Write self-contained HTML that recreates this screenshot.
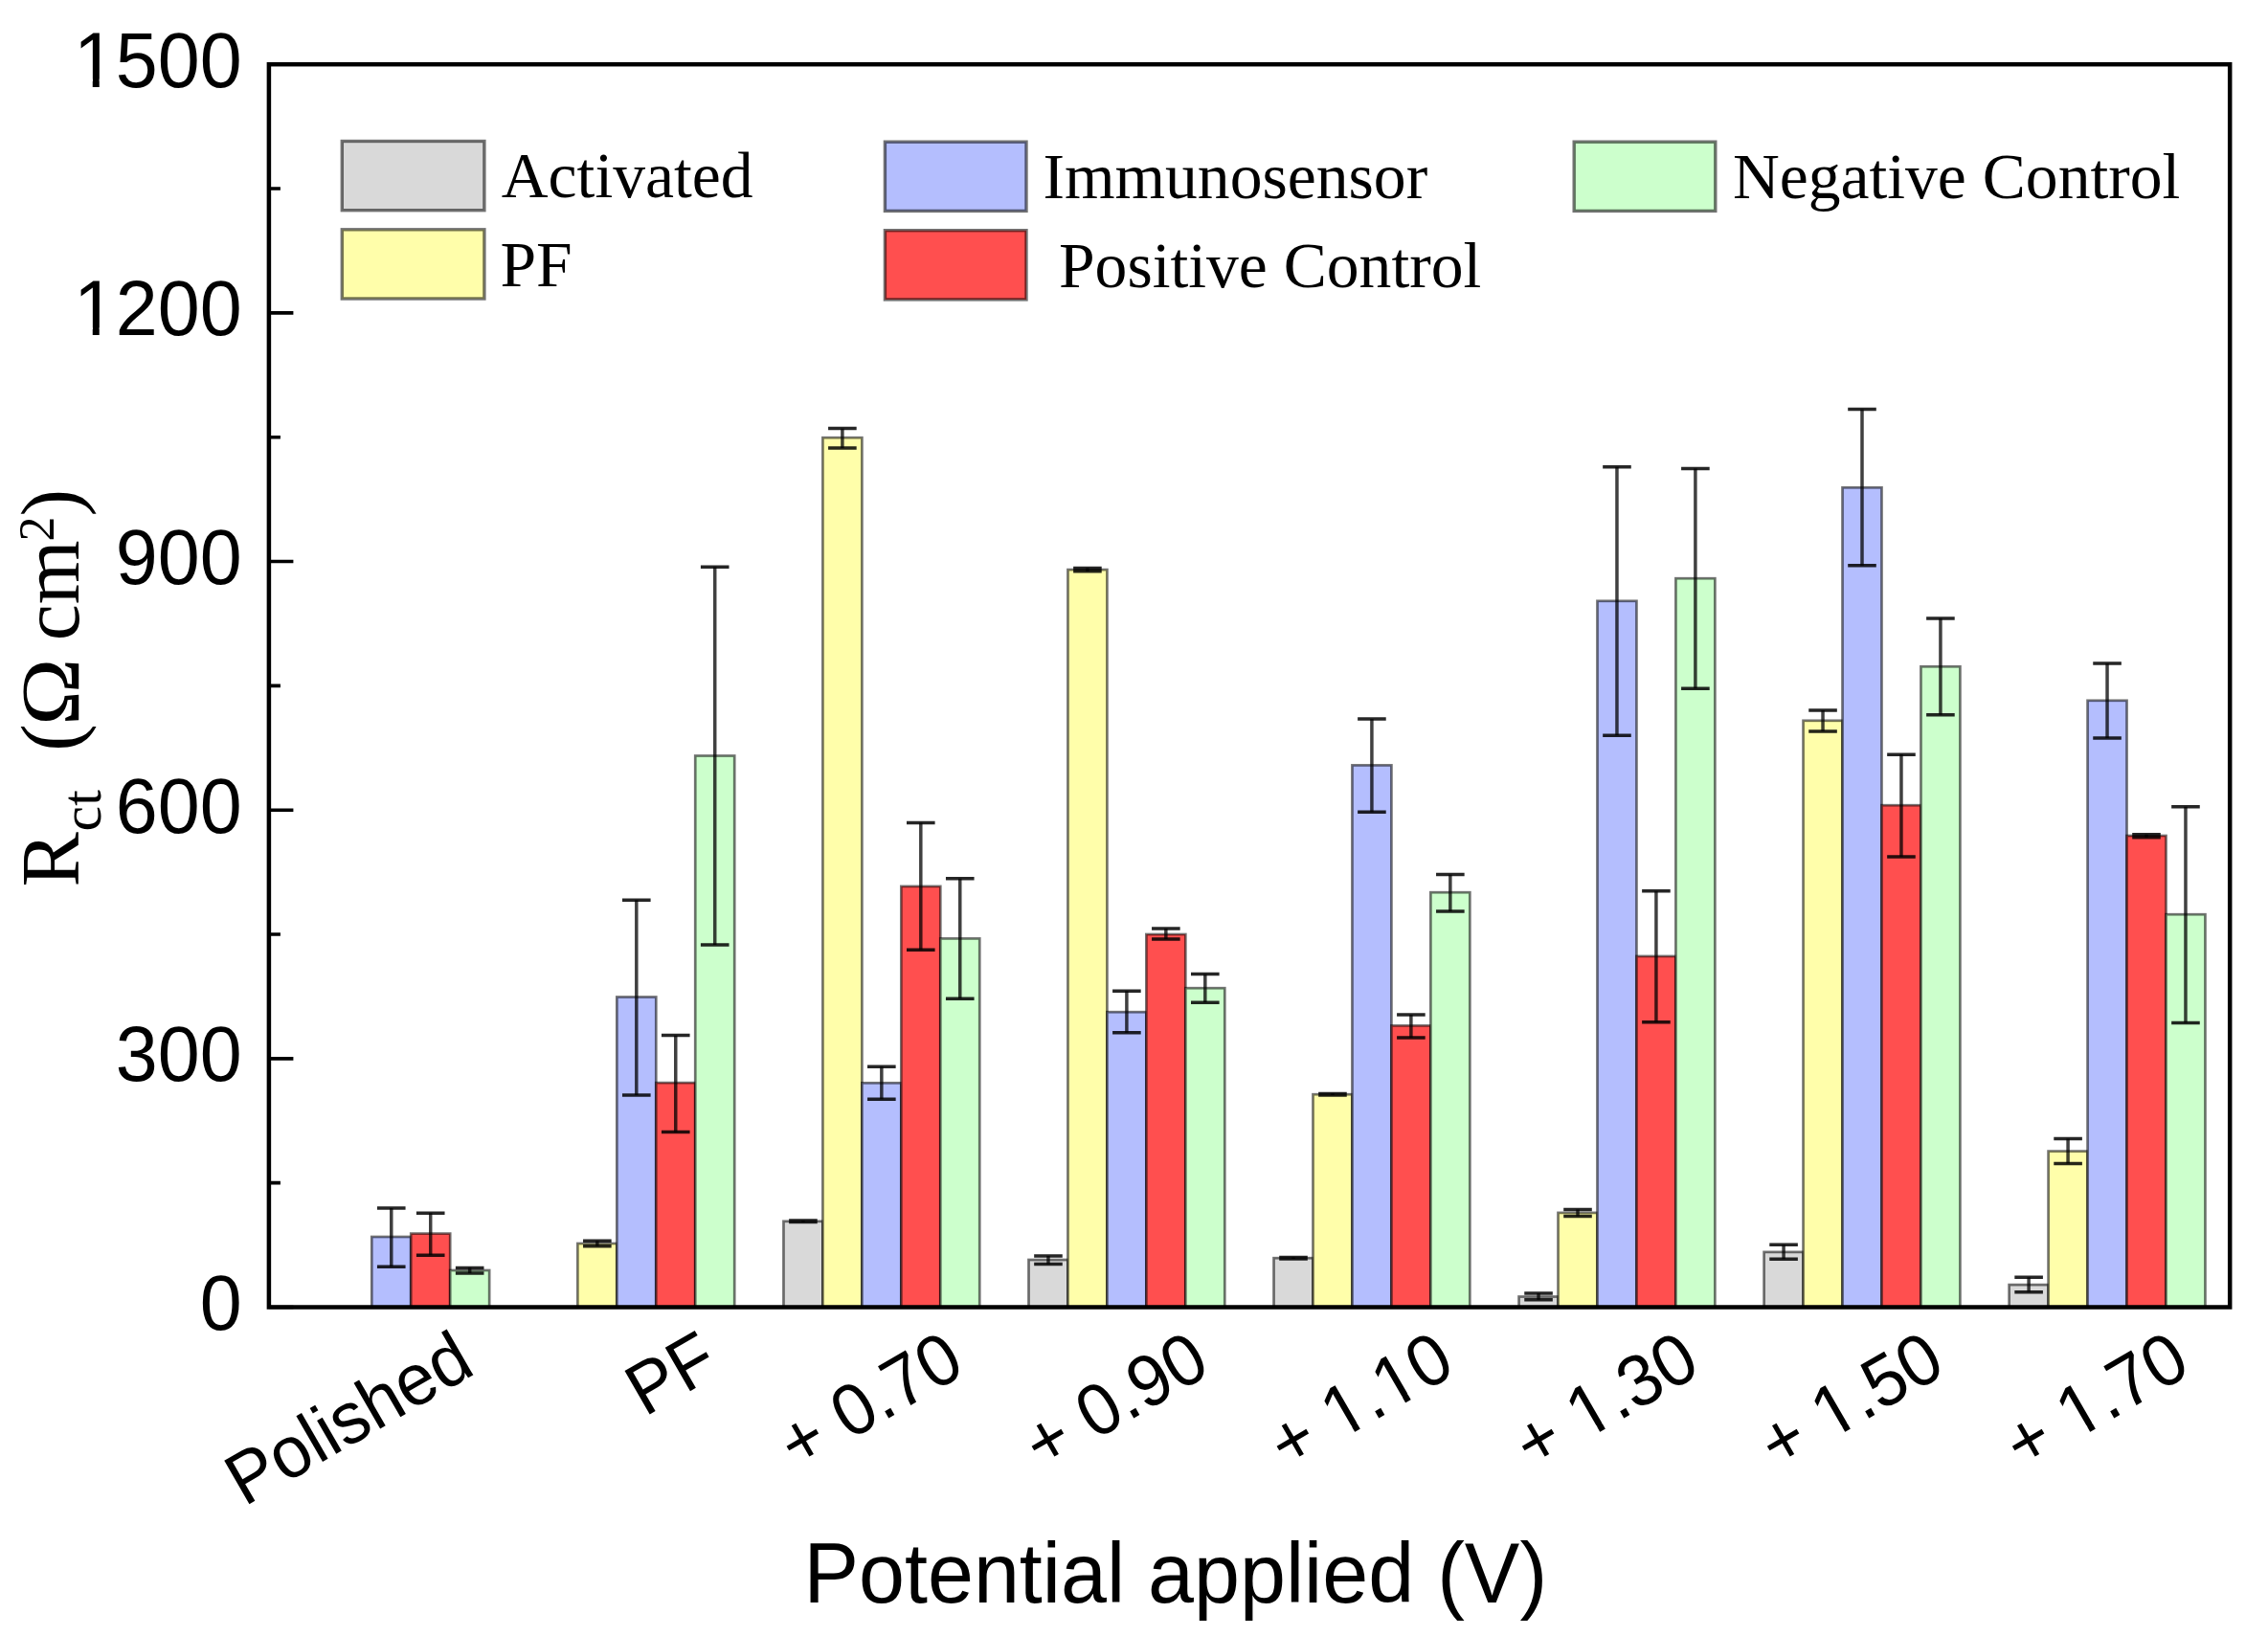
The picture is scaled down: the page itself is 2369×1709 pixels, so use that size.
<!DOCTYPE html><html><head><meta charset="utf-8"><style>
html,body{margin:0;padding:0;background:#fff;}svg{display:block;}
</style></head><body>
<svg width="2369" height="1709" viewBox="0 0 2369 1709">
<rect width="2369" height="1709" fill="#fff"/>
<g stroke="rgba(0,0,0,0.55)" stroke-width="2.7">
<rect x="388.28" y="1292.00" width="40.96" height="73.50" fill="#b4befe"/>
<rect x="429.24" y="1288.60" width="40.96" height="76.90" fill="#ff4f4f"/>
<rect x="470.20" y="1327.00" width="40.96" height="38.50" fill="#ccffcc"/>
<rect x="603.36" y="1299.00" width="40.96" height="66.50" fill="#fffeaa"/>
<rect x="644.32" y="1041.50" width="40.96" height="324.00" fill="#b4befe"/>
<rect x="685.28" y="1131.10" width="40.96" height="234.40" fill="#ff4f4f"/>
<rect x="726.24" y="789.50" width="40.96" height="576.00" fill="#ccffcc"/>
<rect x="818.44" y="1275.80" width="40.96" height="89.70" fill="#d9d9d9"/>
<rect x="859.40" y="457.20" width="40.96" height="908.30" fill="#fffeaa"/>
<rect x="900.36" y="1131.30" width="40.96" height="234.20" fill="#b4befe"/>
<rect x="941.32" y="925.90" width="40.96" height="439.60" fill="#ff4f4f"/>
<rect x="982.28" y="980.40" width="40.96" height="385.10" fill="#ccffcc"/>
<rect x="1074.48" y="1316.00" width="40.96" height="49.50" fill="#d9d9d9"/>
<rect x="1115.44" y="595.10" width="40.96" height="770.40" fill="#fffeaa"/>
<rect x="1156.40" y="1057.20" width="40.96" height="308.30" fill="#b4befe"/>
<rect x="1197.36" y="976.00" width="40.96" height="389.50" fill="#ff4f4f"/>
<rect x="1238.32" y="1032.20" width="40.96" height="333.30" fill="#ccffcc"/>
<rect x="1330.52" y="1314.20" width="40.96" height="51.30" fill="#d9d9d9"/>
<rect x="1371.48" y="1143.20" width="40.96" height="222.30" fill="#fffeaa"/>
<rect x="1412.44" y="799.40" width="40.96" height="566.10" fill="#b4befe"/>
<rect x="1453.40" y="1071.40" width="40.96" height="294.10" fill="#ff4f4f"/>
<rect x="1494.36" y="932.20" width="40.96" height="433.30" fill="#ccffcc"/>
<rect x="1586.56" y="1354.50" width="40.96" height="11.00" fill="#d9d9d9"/>
<rect x="1627.52" y="1266.90" width="40.96" height="98.60" fill="#fffeaa"/>
<rect x="1668.48" y="627.80" width="40.96" height="737.70" fill="#b4befe"/>
<rect x="1709.44" y="998.90" width="40.96" height="366.60" fill="#ff4f4f"/>
<rect x="1750.40" y="604.20" width="40.96" height="761.30" fill="#ccffcc"/>
<rect x="1842.60" y="1307.90" width="40.96" height="57.60" fill="#d9d9d9"/>
<rect x="1883.56" y="752.80" width="40.96" height="612.70" fill="#fffeaa"/>
<rect x="1924.52" y="509.30" width="40.96" height="856.20" fill="#b4befe"/>
<rect x="1965.48" y="841.20" width="40.96" height="524.30" fill="#ff4f4f"/>
<rect x="2006.44" y="696.30" width="40.96" height="669.20" fill="#ccffcc"/>
<rect x="2098.64" y="1342.10" width="40.96" height="23.40" fill="#d9d9d9"/>
<rect x="2139.60" y="1202.60" width="40.96" height="162.90" fill="#fffeaa"/>
<rect x="2180.56" y="731.80" width="40.96" height="633.70" fill="#b4befe"/>
<rect x="2221.52" y="873.00" width="40.96" height="492.50" fill="#ff4f4f"/>
<rect x="2262.48" y="955.20" width="40.96" height="410.30" fill="#ccffcc"/>
</g>
<g stroke="rgba(0,0,0,0.75)" stroke-width="3.5" fill="none">
<path d="M408.76 1262.00V1323.20"/><path stroke="rgba(0,0,0,0.85)" d="M393.96 1262.00H423.56M393.96 1323.20H423.56"/>
<path d="M449.72 1267.15V1311.15"/><path stroke="rgba(0,0,0,0.85)" d="M434.92 1267.15H464.52M434.92 1311.15H464.52"/>
<path d="M490.68 1324.40V1330.00"/><path stroke="rgba(0,0,0,0.85)" d="M475.88 1324.40H505.48M475.88 1330.00H505.48"/>
<path d="M623.84 1296.30V1301.70"/><path stroke="rgba(0,0,0,0.85)" d="M609.04 1296.30H638.64M609.04 1301.70H638.64"/>
<path d="M664.80 940.30V1144.10"/><path stroke="rgba(0,0,0,0.85)" d="M650.00 940.30H679.60M650.00 1144.10H679.60"/>
<path d="M705.76 1081.60V1182.60"/><path stroke="rgba(0,0,0,0.85)" d="M690.96 1081.60H720.56M690.96 1182.60H720.56"/>
<path d="M746.72 592.30V987.00"/><path stroke="rgba(0,0,0,0.85)" d="M731.92 592.30H761.52M731.92 987.00H761.52"/>
<path d="M838.92 1275.00V1276.60"/><path stroke="rgba(0,0,0,0.85)" d="M824.12 1275.00H853.72M824.12 1276.60H853.72"/>
<path d="M879.88 447.60V468.10"/><path stroke="rgba(0,0,0,0.85)" d="M865.08 447.60H894.68M865.08 468.10H894.68"/>
<path d="M920.84 1114.25V1148.25"/><path stroke="rgba(0,0,0,0.85)" d="M906.04 1114.25H935.64M906.04 1148.25H935.64"/>
<path d="M961.80 859.60V992.20"/><path stroke="rgba(0,0,0,0.85)" d="M947.00 859.60H976.60M947.00 992.20H976.60"/>
<path d="M1002.76 917.70V1043.20"/><path stroke="rgba(0,0,0,0.85)" d="M987.96 917.70H1017.56M987.96 1043.20H1017.56"/>
<path d="M1094.96 1312.00V1320.40"/><path stroke="rgba(0,0,0,0.85)" d="M1080.16 1312.00H1109.76M1080.16 1320.40H1109.76"/>
<path d="M1135.92 593.40V596.80"/><path stroke="rgba(0,0,0,0.85)" d="M1121.12 593.40H1150.72M1121.12 596.80H1150.72"/>
<path d="M1176.88 1035.20V1078.80"/><path stroke="rgba(0,0,0,0.85)" d="M1162.08 1035.20H1191.68M1162.08 1078.80H1191.68"/>
<path d="M1217.84 970.00V981.00"/><path stroke="rgba(0,0,0,0.85)" d="M1203.04 970.00H1232.64M1203.04 981.00H1232.64"/>
<path d="M1258.80 1017.60V1047.20"/><path stroke="rgba(0,0,0,0.85)" d="M1244.00 1017.60H1273.60M1244.00 1047.20H1273.60"/>
<path d="M1351.00 1313.40V1315.00"/><path stroke="rgba(0,0,0,0.85)" d="M1336.20 1313.40H1365.80M1336.20 1315.00H1365.80"/>
<path d="M1391.96 1142.40V1144.00"/><path stroke="rgba(0,0,0,0.85)" d="M1377.16 1142.40H1406.76M1377.16 1144.00H1406.76"/>
<path d="M1432.92 751.10V848.30"/><path stroke="rgba(0,0,0,0.85)" d="M1418.12 751.10H1447.72M1418.12 848.30H1447.72"/>
<path d="M1473.88 1060.00V1083.90"/><path stroke="rgba(0,0,0,0.85)" d="M1459.08 1060.00H1488.68M1459.08 1083.90H1488.68"/>
<path d="M1514.84 913.60V952.00"/><path stroke="rgba(0,0,0,0.85)" d="M1500.04 913.60H1529.64M1500.04 952.00H1529.64"/>
<path d="M1607.04 1351.00V1357.80"/><path stroke="rgba(0,0,0,0.85)" d="M1592.24 1351.00H1621.84M1592.24 1357.80H1621.84"/>
<path d="M1648.00 1263.40V1270.40"/><path stroke="rgba(0,0,0,0.85)" d="M1633.20 1263.40H1662.80M1633.20 1270.40H1662.80"/>
<path d="M1688.96 487.80V768.20"/><path stroke="rgba(0,0,0,0.85)" d="M1674.16 487.80H1703.76M1674.16 768.20H1703.76"/>
<path d="M1729.92 930.80V1067.70"/><path stroke="rgba(0,0,0,0.85)" d="M1715.12 930.80H1744.72M1715.12 1067.70H1744.72"/>
<path d="M1770.88 489.50V719.30"/><path stroke="rgba(0,0,0,0.85)" d="M1756.08 489.50H1785.68M1756.08 719.30H1785.68"/>
<path d="M1863.08 1300.30V1315.20"/><path stroke="rgba(0,0,0,0.85)" d="M1848.28 1300.30H1877.88M1848.28 1315.20H1877.88"/>
<path d="M1904.04 742.00V763.90"/><path stroke="rgba(0,0,0,0.85)" d="M1889.24 742.00H1918.84M1889.24 763.90H1918.84"/>
<path d="M1945.00 427.50V590.70"/><path stroke="rgba(0,0,0,0.85)" d="M1930.20 427.50H1959.80M1930.20 590.70H1959.80"/>
<path d="M1985.96 788.20V894.90"/><path stroke="rgba(0,0,0,0.85)" d="M1971.16 788.20H2000.76M1971.16 894.90H2000.76"/>
<path d="M2026.92 645.90V746.70"/><path stroke="rgba(0,0,0,0.85)" d="M2012.12 645.90H2041.72M2012.12 746.70H2041.72"/>
<path d="M2119.12 1334.30V1349.70"/><path stroke="rgba(0,0,0,0.85)" d="M2104.32 1334.30H2133.92M2104.32 1349.70H2133.92"/>
<path d="M2160.08 1189.50V1215.50"/><path stroke="rgba(0,0,0,0.85)" d="M2145.28 1189.50H2174.88M2145.28 1215.50H2174.88"/>
<path d="M2201.04 693.00V770.90"/><path stroke="rgba(0,0,0,0.85)" d="M2186.24 693.00H2215.84M2186.24 770.90H2215.84"/>
<path d="M2242.00 871.70V874.70"/><path stroke="rgba(0,0,0,0.85)" d="M2227.20 871.70H2256.80M2227.20 874.70H2256.80"/>
<path d="M2282.96 842.70V1068.50"/><path stroke="rgba(0,0,0,0.85)" d="M2268.16 842.70H2297.76M2268.16 1068.50H2297.76"/>
</g>
<rect x="280.9" y="67.2" width="2048.3" height="1298.3" fill="none" stroke="#000" stroke-width="4.5"/>
<path d="M280.9 1365.50H306.4M280.9 1235.67H292.9M280.9 1105.84H306.4M280.9 976.01H292.9M280.9 846.18H306.4M280.9 716.35H292.9M280.9 586.52H306.4M280.9 456.69H292.9M280.9 326.86H306.4M280.9 197.03H292.9M280.9 67.20H306.4" stroke="#000" stroke-width="3.6"/>
<g font-family="'Liberation Sans', Arial, sans-serif" font-size="80" text-anchor="end" fill="#000">
<g transform="translate(252.7,1388.8) scale(0.988,1.028)"><text>0</text></g>
<g transform="translate(252.7,1129.1) scale(0.988,1.028)"><text>300</text></g>
<g transform="translate(252.7,869.5) scale(0.988,1.028)"><text>600</text></g>
<g transform="translate(252.7,609.8) scale(0.988,1.028)"><text>900</text></g>
<g transform="translate(252.7,350.2) scale(0.988,1.028)"><text>1200</text><rect x="-173.47" y="-7.78" width="15.62" height="9.58" fill="#fff"/><rect x="-150.78" y="-7.78" width="15.00" height="9.58" fill="#fff"/></g>
<g transform="translate(252.7,90.5) scale(0.988,1.028)"><text>1500</text><rect x="-173.47" y="-7.78" width="15.62" height="9.58" fill="#fff"/><rect x="-150.78" y="-7.78" width="15.00" height="9.58" fill="#fff"/></g>
</g>
<g font-family="'Liberation Sans', Arial, sans-serif" font-size="74" text-anchor="end" fill="#000">
<g transform="translate(498.6,1433.8) rotate(-30) scale(0.99,1.03)"><text>Polished</text></g>
<g transform="translate(754.6,1433.8) rotate(-30) scale(0.99,1.03)"><text>PF</text></g>
<g transform="translate(1010.6,1433.8) rotate(-30) scale(0.99,1.03)"><text>+ 0.70</text></g>
<g transform="translate(1266.7,1433.8) rotate(-30) scale(0.99,1.03)"><text>+ 0.90</text></g>
<g transform="translate(1522.7,1433.8) rotate(-30) scale(0.99,1.03)"><text>+ 1.10</text><rect x="-139.99" y="-7.33" width="14.57" height="9.13" fill="#fff"/><rect x="-118.88" y="-7.33" width="13.99" height="9.13" fill="#fff"/><rect x="-78.27" y="-7.33" width="14.57" height="9.13" fill="#fff"/><rect x="-57.16" y="-7.33" width="13.99" height="9.13" fill="#fff"/></g>
<g transform="translate(1778.8,1433.8) rotate(-30) scale(0.99,1.03)"><text>+ 1.30</text><rect x="-139.99" y="-7.33" width="14.57" height="9.13" fill="#fff"/><rect x="-118.88" y="-7.33" width="13.99" height="9.13" fill="#fff"/></g>
<g transform="translate(2034.8,1433.8) rotate(-30) scale(0.99,1.03)"><text>+ 1.50</text><rect x="-139.99" y="-7.33" width="14.57" height="9.13" fill="#fff"/><rect x="-118.88" y="-7.33" width="13.99" height="9.13" fill="#fff"/></g>
<g transform="translate(2290.8,1433.8) rotate(-30) scale(0.99,1.03)"><text>+ 1.70</text><rect x="-139.99" y="-7.33" width="14.57" height="9.13" fill="#fff"/><rect x="-118.88" y="-7.33" width="13.99" height="9.13" fill="#fff"/></g>
</g>
<text transform="translate(839.5,1673.8) scale(1.003,1.03)" font-family="'Liberation Sans', Arial, sans-serif" font-size="86" fill="#000">Potential applied (V)</text>
<g transform="translate(81.5,0) rotate(-90)" font-family="'Liberation Serif', 'Times New Roman', serif" fill="#000">
<text font-size="86" x="-926.4" y="0">R</text>
<text font-size="60" x="-868.5" y="23.5">ct</text>
<text font-size="86" x="-784.7" y="0">(</text>
<text font-size="86" x="-758.1" y="0" textLength="70.5" lengthAdjust="spacingAndGlyphs">Ω</text>
<text font-size="86" x="-669.3" y="0">cm</text>
<text font-size="52" x="-565.6" y="-26">2</text>
<text font-size="86" x="-539.6" y="0">)</text>
</g>
<g font-family="'Liberation Serif', 'Times New Roman', serif" font-size="67.6" fill="#000">
<rect x="357.3" y="147.5" width="148.6" height="72.2" fill="#d9d9d9" stroke="rgba(0,0,0,0.55)" stroke-width="3.4"/>
<text x="523.8" y="206.3" xml:space="preserve">Activated</text>
<rect x="357.3" y="239.8" width="148.6" height="72.2" fill="#fffeaa" stroke="rgba(0,0,0,0.55)" stroke-width="3.4"/>
<text x="522.5" y="298.6" xml:space="preserve">PF</text>
<rect x="924.4" y="148.2" width="147.6" height="72.2" fill="#b4befe" stroke="rgba(0,0,0,0.55)" stroke-width="3.4"/>
<text x="1089.4" y="207.0" xml:space="preserve">Immunosensor</text>
<rect x="924.4" y="240.7" width="147.6" height="72.2" fill="#ff4f4f" stroke="rgba(0,0,0,0.55)" stroke-width="3.4"/>
<text x="1106.0" y="299.5" xml:space="preserve">Positive Control</text>
<rect x="1644.2" y="148.2" width="147.6" height="72.2" fill="#ccffcc" stroke="rgba(0,0,0,0.55)" stroke-width="3.4"/>
<text x="1809.9" y="207.0" xml:space="preserve">Negative Control</text>
</g>
</svg></body></html>
